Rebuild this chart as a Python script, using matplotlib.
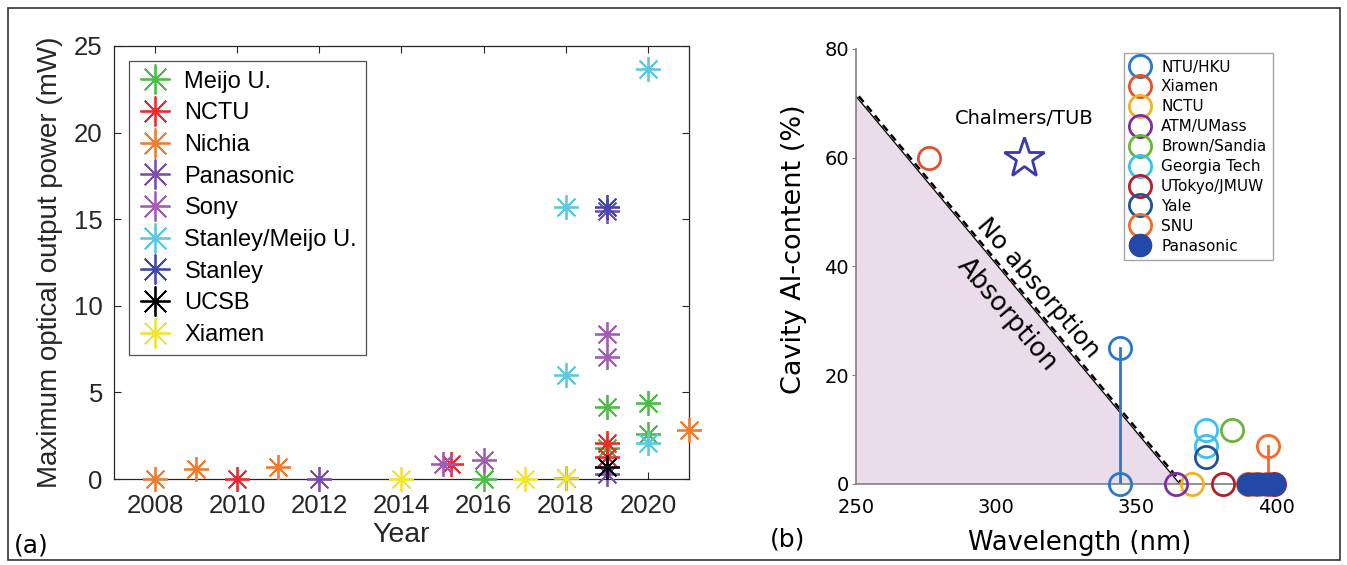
import numpy as np
import matplotlib
matplotlib.use("Agg")
import matplotlib.pyplot as plt
from matplotlib.patches import Rectangle, Polygon

# ---- panel (a) data: year / max optical output power (mW)
meijo_year = [2016, 2019, 2019, 2020, 2020]
meijo_pow = [0.0, 4.15, 1.8, 4.4, 2.6]
nctu_year = [2010, 2015.2, 2019, 2019]
nctu_pow = [0.0, 0.85, 2.05, 1.25]
nichia_year = [2008, 2009, 2011, 2021]
nichia_pow = [0.0, 0.6, 0.7, 2.85]
pana_year = [2012, 2019, 2019]
pana_pow = [0.0, 15.5, 0.3]
sony_year = [2015, 2016, 2019, 2019]
sony_pow = [0.85, 1.1, 8.4, 7.05]
stmeijo_year = [2018, 2018, 2020, 2020]
stmeijo_pow = [15.7, 6.0, 23.65, 2.1]
stanley_year = [2019]
stanley_pow = [15.7]
ucsb_year = [2018, 2019]
ucsb_pow = [0.05, 0.7]
xiamen_year = [2014, 2017, 2018]
xiamen_pow = [0.0, 0.0, 0.05]

series_a = [
    ("Meijo U.", meijo_year, meijo_pow, "#4dbb47"),
    ("NCTU", nctu_year, nctu_pow, "#f0282d"),
    ("Nichia", nichia_year, nichia_pow, "#f07b2d"),
    ("Panasonic", pana_year, pana_pow, "#7b4fa8"),
    ("Sony", sony_year, sony_pow, "#a25cb4"),
    ("Stanley/Meijo U.", stmeijo_year, stmeijo_pow, "#5cc8dc"),
    ("Stanley", stanley_year, stanley_pow, "#3f48b0"),
    ("UCSB", ucsb_year, ucsb_pow, "#000000"),
    ("Xiamen", xiamen_year, xiamen_pow, "#f3e62a"),
]

# ---- panel (b) data: wavelength (nm) / cavity Al-content (%)
ntu_wl = [344, 344]
ntu_al = [0, 25]
xiamen_wl = [276]
xiamen_al = [60]
nctu_wl = [370]
nctu_al = [0]
atm_wl = [364]
atm_al = [0]
brown_wl = [384]
brown_al = [10]
georgia_wl = [375, 375]
georgia_al = [10, 7]
utokyo_wl = [381, 399]
utokyo_al = [0, 0]
yale_wl = [375]
yale_al = [5]
snu_wl = [397, 397, 390, 393]
snu_al = [7, 0, 0, 0]
panab_wl = [390, 391.5, 393, 394.5, 396, 397.5, 399]
panab_al = [0, 0, 0, 0, 0, 0, 0]
chalmers_wl = [310]
chalmers_al = [60]
edge_wl = [250, 365.5]
edge_al = [71.3, 0]

fig = plt.figure(figsize=(13.47, 5.65), dpi=100)

# ================= panel (a)
plt.rcParams['font.family'] = ['Liberation Sans', 'DejaVu Sans']
ax = fig.add_axes([0.0846, 0.1522, 0.4269, 0.7664])
star = (8, 2, 0)
for name, xs, ys, c in series_a:
    ax.plot(xs, ys, ls='none', marker=star, ms=18, mew=1.3, color=c,
            label=name, clip_on=False, zorder=3)
ax.set_xlim(2007, 2021)
ax.set_ylim(0, 25)
ax.set_xticks(np.arange(2008, 2021, 2))
ax.set_yticks(np.arange(0, 26, 5))
ax.tick_params(direction='in', top=True, right=True, length=5,
               labelsize=18.5, colors='#262626', width=0.8)
ax.tick_params(axis='x', pad=11)
ax.tick_params(axis='y', pad=8)
for sp in ax.spines.values():
    sp.set_color('#262626')
    sp.set_linewidth(0.9)
ax.set_xlabel('Year', fontsize=20.5, color='#262626', labelpad=3)
ax.set_ylabel('Maximum optical output power (mW)', fontsize=20,
              color='#262626', labelpad=8)
leg = ax.legend(loc='upper left', bbox_to_anchor=(0.026, 0.965), fontsize=17,
                frameon=True, fancybox=False, edgecolor='#262626',
                labelspacing=0.41, handlelength=1.4, handletextpad=0.55,
                borderpad=0.4, borderaxespad=0, markerscale=1.2)
leg.get_frame().set_linewidth(0.9)

# ================= panel (b)
fb = ['DejaVu Sans']
bx = fig.add_axes([0.6355, 0.1434, 0.3163, 0.7699])
bx.add_patch(Polygon([[edge_wl[0], 0], [edge_wl[0], edge_al[0]],
                      [edge_wl[1], edge_al[1]]], closed=True,
                     facecolor='#eadcea', edgecolor='none', zorder=0))
bx.plot(edge_wl, edge_al, color='black', lw=0.9, zorder=1)
bx.plot([w + 1.0 for w in edge_wl], edge_al, color='black', lw=1.8,
        ls=(0, (3, 2)), zorder=1)

ms_b = 16
mew_b = 2
bx.plot(ntu_wl, ntu_al, color='#2a78c8', lw=2, zorder=2)
bx.plot(snu_wl[:2], snu_al[:2], color='#f26b2a', lw=2, zorder=2)
pts = [
    ("NTU/HKU", ntu_wl, ntu_al, '#2a78c8'),
    ("Xiamen", xiamen_wl, xiamen_al, '#e0522a'),
    ("NCTU", nctu_wl, nctu_al, '#f2b225'),
    ("ATM/UMass", atm_wl, atm_al, '#7e2f9a'),
    ("Brown/Sandia", brown_wl, brown_al, '#6cb33a'),
    ("Georgia Tech", georgia_wl, georgia_al, '#3cc0ec'),
    ("UTokyo/JMUW", utokyo_wl, utokyo_al, '#b0202e'),
    ("Yale", yale_wl, yale_al, '#1f5594'),
    ("SNU", snu_wl, snu_al, '#f26b2a'),
]
for name, xs, ys, c in pts:
    bx.plot(xs, ys, ls='none', marker='o', ms=ms_b, mfc='none', mec=c,
            mew=mew_b, label=name, clip_on=False, zorder=3)
bx.plot(panab_wl, panab_al, ls='none', marker='o', ms=ms_b, color='#2448a8',
        label='Panasonic', clip_on=False, zorder=4)
bx.plot(chalmers_wl, chalmers_al, ls='none', marker='*', ms=30,
        mfc='white', mec='#3a3aa8', mew=2, zorder=4)
bx.text(chalmers_wl[0], chalmers_al[0] + 7.2, 'Chalmers/TUB', ha='center',
        va='center', fontsize=14, family=fb)
bx.text(315, 36, 'No absorption', rotation=-49.5, ha='center', va='center',
        fontsize=18, family=fb, rotation_mode='anchor')
bx.text(304, 31.2, 'Absorption', rotation=-49.5, ha='center', va='center',
        fontsize=18.5, family=fb, rotation_mode='anchor')

bx.set_xlim(250, 402)
bx.set_ylim(0, 80)
bx.set_xticks([250, 300, 350, 400])
bx.set_yticks([0, 20, 40, 60, 80])
for s in ['top', 'right']:
    bx.spines[s].set_visible(False)
for s in ['left', 'bottom']:
    bx.spines[s].set_color('#808080')
    bx.spines[s].set_linewidth(1.2)
bx.tick_params(axis='x', length=0, pad=10, labelsize=14)
bx.tick_params(axis='y', length=3, pad=2, labelsize=14, color='#808080')
for lab in bx.get_xticklabels() + bx.get_yticklabels():
    lab.set_family(fb)
bx.set_xlabel('Wavelength (nm)', fontsize=18.5, family=fb)
bx.xaxis.set_label_coords(0.526, -0.105)
bx.set_ylabel('Cavity Al-content (%)', fontsize=19.5, family=fb)
bx.yaxis.set_label_coords(-0.115, 0.54)
legb = bx.legend(loc='upper right', bbox_to_anchor=(0.979, 0.9915),
                 prop={'family': fb, 'size': 11}, frameon=True,
                 fancybox=False, edgecolor='#909090', labelspacing=0.32,
                 handlelength=1.2, handletextpad=0.75, borderpad=0.45,
                 borderaxespad=0)
legb.get_frame().set_linewidth(1.0)

# panel tags and border
fig.text(14 / 1347, 1 - 545 / 565, '(a)', fontsize=18, family=fb,
         va='center', ha='left')
fig.text(770 / 1347, 1 - 540 / 565, '(b)', fontsize=18, family=fb,
         va='center', ha='left')
fig.patches.append(Rectangle((8 / 1347, 5 / 565), 1332 / 1347, 552 / 565,
                             transform=fig.transFigure, fill=False,
                             edgecolor='#333333', lw=1.2))

fig.savefig('out.png', dpi=100)
